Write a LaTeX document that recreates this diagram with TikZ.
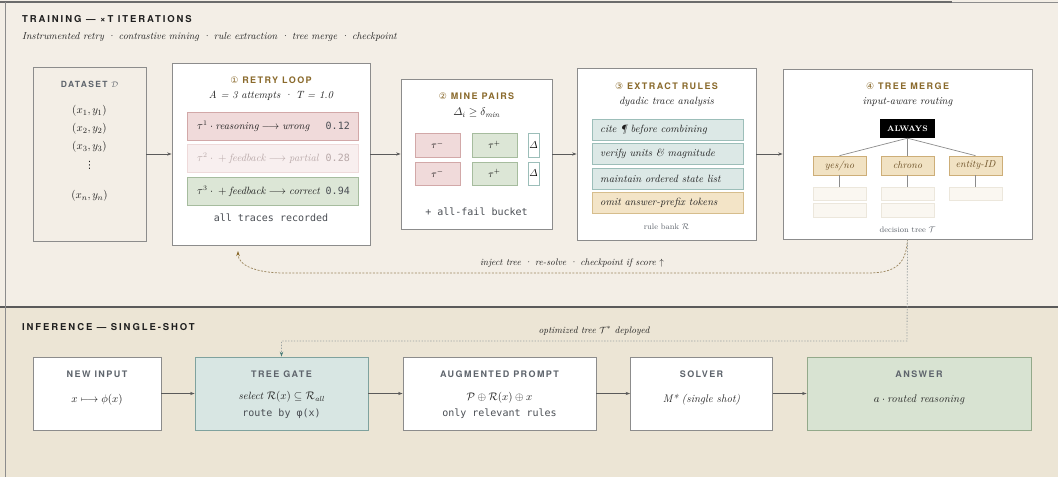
\documentclass[tikz,border=0pt]{standalone}
\usepackage{amsmath}
\usepackage{fontspec}
\setmonofont{DejaVu Sans Mono}
\newfontfamily\headfont[LetterSpace=16]{TeX Gyre Heros}
\newfontfamily\secfont[LetterSpace=20]{TeX Gyre Heros}
\newfontfamily\symfont{DejaVu Sans}
\usetikzlibrary{arrows.meta}

\definecolor{bgtop}{HTML}{F3EEE6}
\definecolor{bgbot}{HTML}{ECE5D5}
\definecolor{frame}{HTML}{8C8C8C}
\definecolor{rulegrey}{HTML}{5A5A5A}
\definecolor{brownhd}{HTML}{8A6A2C}
\definecolor{greyhd}{HTML}{5E646C}
\definecolor{ink}{HTML}{1E1E1E}
\definecolor{monogrey}{HTML}{4A4E54}
\definecolor{redfill}{HTML}{F0DADA}
\definecolor{redline}{HTML}{D2A8A8}
\definecolor{palefill}{HTML}{F8EFEF}
\definecolor{paleline}{HTML}{EEDADA}
\definecolor{paletext}{HTML}{B8A8A8}
\definecolor{grnfill}{HTML}{DCE6D6}
\definecolor{grnline}{HTML}{A6BC9E}
\definecolor{tealfill}{HTML}{DCE8E6}
\definecolor{tealline}{HTML}{9CBEB9}
\definecolor{tanfill}{HTML}{F3E4C7}
\definecolor{tanline}{HTML}{D6BD8C}
\definecolor{kidfill}{HTML}{F1E2C3}
\definecolor{kidline}{HTML}{CDAE78}
\definecolor{kidtext}{HTML}{6B4F24}
\definecolor{ghostfill}{HTML}{FAF7F1}
\definecolor{ghostline}{HTML}{ECE7DC}
\definecolor{gatefill}{HTML}{D8E6E3}
\definecolor{gateline}{HTML}{7FA29E}
\definecolor{ansfill}{HTML}{D8E3D2}
\definecolor{ansline}{HTML}{93A98A}
\definecolor{loopline}{HTML}{9C8760}
\definecolor{deployline}{HTML}{9BA2A2}
\definecolor{deploytip}{HTML}{4A7C78}

\begin{document}
\begin{tikzpicture}[x=1pt,y=-1pt,
  box/.style={draw=frame, line width=0.8pt, inner sep=0pt, rectangle},
  bar/.style={line width=0.7pt, inner sep=0pt, rectangle},
  txt/.style={inner sep=0pt, text=ink},
  sect/.style={inner sep=0pt, anchor=west, text=ink, font=\secfont\bfseries\fontsize{9.5}{11}\selectfont},
  subt/.style={inner sep=0pt, anchor=west, text=ink, font=\itshape\fontsize{10}{12}\selectfont},
  hdb/.style={inner sep=0pt, text=brownhd, font=\headfont\bfseries\fontsize{9}{10}\selectfont},
  hdg/.style={inner sep=0pt, text=greyhd, font=\headfont\bfseries\fontsize{9}{10}\selectfont},
  it/.style={txt, font=\itshape\fontsize{10.5}{12}\selectfont},
  mth/.style={txt, font=\fontsize{11}{13}\selectfont},
  mono/.style={inner sep=0pt, text=monogrey, font=\ttfamily\fontsize{10}{12}\selectfont},
  small/.style={inner sep=0pt, text=greyhd, font=\fontsize{8}{9}\selectfont},
  flow/.style={draw=rulegrey, line width=0.7pt, -{Stealth[length=4.5pt,width=3.2pt]}},
  twig/.style={draw=frame, line width=0.7pt},
  loopback/.style={draw=loopline, line width=0.75pt, dash pattern=on 2pt off 1.5pt, -{Stealth[length=5pt,width=3.5pt,color=brownhd]}},
  deploy/.style={draw=deployline, line width=0.8pt, dash pattern=on 1.3pt off 1.6pt, -{Stealth[length=5pt,width=3.5pt,color=deploytip]}},
  ghost/.style={bar, draw=ghostline, fill=ghostfill, minimum width=53pt},
  kid/.style={bar, draw=kidline, fill=kidfill, minimum width=53pt, minimum height=19pt, text=kidtext, font=\itshape\fontsize{10}{12}\selectfont}
]
\useasboundingbox (0,0) rectangle (1058,477);

% section backgrounds and frame lines
\fill[bgtop] (0,0) rectangle (1058,307);
\fill[bgbot] (0,307) rectangle (1058,477);
\draw[rulegrey, line width=1.3pt] (0,307) -- (1058,307);
\draw[rulegrey!90, line width=1.1pt] (0,2) -- (952,2);
\draw[frame, line width=0.6pt] (952,2.3) -- (1058,2.3);
\draw[frame, line width=0.7pt] (5,2) -- (5,477);

% section titles
\node[sect] (trainhd) at (22,19) {TRAINING — ×T ITERATIONS};
\node[subt] (trainsub) at (22,37) {Instrumented retry · contrastive mining · rule extraction · tree merge · checkpoint};
\node[sect] (infhd) at (22,327) {INFERENCE — SINGLE-SHOT};

% ---------- training row ----------
\node[box, fill=bgtop, minimum width=113pt, minimum height=174pt] (dataset) at (89.5,154) {};
\node[hdg, font=\headfont\bfseries\fontsize{8.5}{10}\selectfont] (datahd) at (89.5,84) {DATASET $\mathcal{D}$};
\node[mth] (d1) at (89.5,111) {$(x_1, y_1)$};
\node[mth] (d2) at (89.5,129) {$(x_2, y_2)$};
\node[mth] (d3) at (89.5,147) {$(x_3, y_3)$};
\node[txt, font=\symfont\fontsize{10}{11}\selectfont] (d4) at (89.5,165) {⋮};
\node[mth] (d5) at (89.5,196) {$(x_n, y_n)$};

\node[box, fill=white, minimum width=198pt, minimum height=182pt] (retry) at (271,154) {};
\node[hdb] (retryhd) at (271,80) {{\symfont\mdseries ①} RETRY LOOP};
\node[it] (retrysub) at (271,96) {A = 3 attempts · T = 1.0};
\node[bar, draw=redline, fill=redfill, minimum width=171pt, minimum height=28pt] (try1) at (272.5,126) {};
\node[bar, draw=paleline, fill=palefill, minimum width=171pt, minimum height=28pt] (try2) at (272.5,158) {};
\node[bar, draw=grnline, fill=grnfill, minimum width=171pt, minimum height=28pt] (try3) at (272.5,191) {};
\node[it, anchor=west] (t1) at (197,126) {$\tau^{1}\cdot\textit{reasoning}\longrightarrow\textit{wrong}$};
\node[it, anchor=west, text=paletext] (t2) at (197,158) {$\tau^{2}\cdot{}+\textit{feedback}\longrightarrow\textit{partial}$};
\node[it, anchor=west] (t3) at (197,191) {$\tau^{3}\cdot{}+\textit{feedback}\longrightarrow\textit{correct}$};
\node[mono, anchor=east] (s1) at (350,126) {0.12};
\node[mono, anchor=east, text=paletext] (s2) at (350,158) {0.28};
\node[mono, anchor=east] (s3) at (350,191) {0.94};
\node[mono] (retrynote) at (271,218) {all traces recorded};

\node[box, fill=white, minimum width=151pt, minimum height=150pt] (mine) at (476.5,154) {};
\node[hdb] (minehd) at (476.5,96) {{\symfont\mdseries ②} MINE PAIRS};
\node[mth] (minesub) at (476.5,113) {$\varDelta_i \geq \delta_{\mathit{min}}$};
\node[bar, draw=redline, fill=redfill, minimum width=45pt, minimum height=24pt] (neg1) at (437.5,145) {$\tau^-$};
\node[bar, draw=grnline, fill=grnfill, minimum width=45pt, minimum height=24pt] (pos1) at (494.5,145) {$\tau^+$};
\node[bar, draw=tealline, fill=white, minimum width=11pt, minimum height=24pt] (del1) at (533.5,145) {$\varDelta$};
\node[bar, draw=redline, fill=redfill, minimum width=45pt, minimum height=23pt] (neg2) at (437.5,173.5) {$\tau^-$};
\node[bar, draw=grnline, fill=grnfill, minimum width=45pt, minimum height=23pt] (pos2) at (494.5,173.5) {$\tau^+$};
\node[bar, draw=tealline, fill=white, minimum width=11pt, minimum height=23pt] (del2) at (533.5,173.5) {$\varDelta$};
\node[mono] (minenote) at (476.5,212) {+ all-fail bucket};

\node[box, fill=white, minimum width=179pt, minimum height=172pt] (extract) at (666.5,154) {};
\node[hdb] (extracthd) at (666.5,86) {{\symfont\mdseries ③} EXTRACT RULES};
\node[it] (extractsub) at (666.5,102) {dyadic trace analysis};
\node[bar, draw=tealline, fill=tealfill, minimum width=151pt, minimum height=21pt] (r1) at (667.5,129.5) {};
\node[bar, draw=tealline, fill=tealfill, minimum width=151pt, minimum height=21pt] (r2) at (667.5,154) {};
\node[bar, draw=tealline, fill=tealfill, minimum width=151pt, minimum height=21pt] (r3) at (667.5,178.5) {};
\node[bar, draw=tanline, fill=tanfill, minimum width=151pt, minimum height=21pt] (r4) at (667.5,203) {};
\node[it, anchor=west] (rt1) at (600,129.5) {cite \P{} before combining};
\node[it, anchor=west] (rt2) at (600,154) {verify units \& magnitude};
\node[it, anchor=west] (rt3) at (600,178.5) {maintain ordered state list};
\node[it, anchor=west] (rt4) at (600,203) {omit answer-prefix tokens};
\node[small] (rulebank) at (666.5,227) {rule bank $\mathcal{R}$};

\node[box, fill=white, minimum width=249pt, minimum height=170pt] (tree) at (907.5,154) {};
\node[hdb] (treehd) at (907.5,86) {{\symfont\mdseries ④} TREE MERGE};
\node[it] (treesub) at (907.5,102) {input-aware routing};
\node[rectangle, fill=black, inner sep=0pt, minimum width=55pt, minimum height=19pt, text=white, font=\bfseries\fontsize{8}{9}\selectfont] (always) at (907.5,128.5) {ALWAYS};
\node[kid] (kyes) at (839.5,165.5) {yes/no};
\node[kid] (kchr) at (907.5,165.5) {chrono};
\node[kid] (kent) at (975.5,165.5) {entity-ID};
\node[ghost, minimum height=13pt] (g1a) at (839.5,193.5) {};
\node[ghost, minimum height=14pt] (g1b) at (839.5,210) {};
\node[ghost, minimum height=13pt] (g2a) at (907.5,193.5) {};
\node[ghost, minimum height=14pt] (g2b) at (907.5,210) {};
\node[ghost, minimum height=13pt] (g3a) at (975.5,193.5) {};
\draw[twig] (always.south) -- (kyes.north);
\draw[twig] (always.south) -- (kchr.north);
\draw[twig] (always.south) -- (kent.north);
\draw[twig] (kyes.south) -- (g1a.north);
\draw[twig] (kchr.south) -- (g2a.north);
\draw[twig] (kent.south) -- (g3a.north);
\node[small] (treenote) at (907.5,230) {decision tree $\mathcal{T}$};

% forward flow
\draw[flow] (dataset.east) -- (retry.west);
\draw[flow] (retry.east) -- (mine.west);
\draw[flow] (mine.east) -- (extract.west);
\draw[flow] (extract.east) -- (tree.west);

% feedback loop to the retry stage
\coordinate (fbend) at (238,251);
\draw[loopback] (tree.south) .. controls (906,262) and (898,273) .. (868,273) -- (285,273) .. controls (255,273) and (238,265) .. (fbend);
\node[txt, font=\itshape\fontsize{9.5}{11}\selectfont] (fblabel) at (572,263) {inject tree · re-solve · checkpoint if score $\uparrow$};

% ---------- inference row ----------
\node[box, fill=white, minimum width=128pt, minimum height=73pt] (newin) at (97,393.5) {};
\node[hdg] (newinhd) at (97,374) {NEW INPUT};
\node[mth] (newintx) at (97,400) {$x \longmapsto \phi(x)$};

\node[box, draw=gateline, fill=gatefill, minimum width=173pt, minimum height=73pt] (gate) at (281.5,393.5) {};
\node[hdg] (gatehd) at (281.5,374) {TREE GATE};
\node[it] (gatetx) at (281.5,397) {select $\mathcal{R}(x) \subseteq \mathcal{R}_{\mathit{all}}$};
\node[mono] (gatenote) at (281.5,414) {route by φ(x)};

\node[box, fill=white, minimum width=193pt, minimum height=73pt] (aug) at (499.5,393.5) {};
\node[hdg] (aughd) at (499.5,374) {AUGMENTED PROMPT};
\node[mth] (augtx) at (499.5,398) {$\mathcal{P} \oplus \mathcal{R}(x) \oplus x$};
\node[mono] (augnote) at (499.5,414) {only relevant rules};

\node[box, fill=white, minimum width=142pt, minimum height=73pt] (solver) at (701.5,393.5) {};
\node[hdg] (solverhd) at (701.5,374) {SOLVER};
\node[it, font=\itshape\fontsize{11}{13}\selectfont] (solvertx) at (701.5,400) {M* (single shot)};

\node[box, draw=ansline, fill=ansfill, minimum width=224pt, minimum height=73pt] (answer) at (919,393.5) {};
\node[hdg] (answerhd) at (919,374) {ANSWER};
\node[it, font=\itshape\fontsize{11}{13}\selectfont] (answertx) at (919,400) {$a\cdot{}$routed reasoning};

\draw[flow] (newin.east) -- (gate.west);
\draw[flow] (gate.east) -- (aug.west);
\draw[flow] (aug.east) -- (solver.west);
\draw[flow] (solver.east) -- (answer.west);

% deployment of the optimized tree
\coordinate (dpk) at (907,341);
\draw[deploy] (tree.south) -- (dpk) -| (gate.north);
\node[txt, font=\itshape\fontsize{9.5}{11}\selectfont] (dplabel) at (594,331) {optimized tree $\mathcal{T}^{*}$ deployed};
\end{tikzpicture}
\end{document}
